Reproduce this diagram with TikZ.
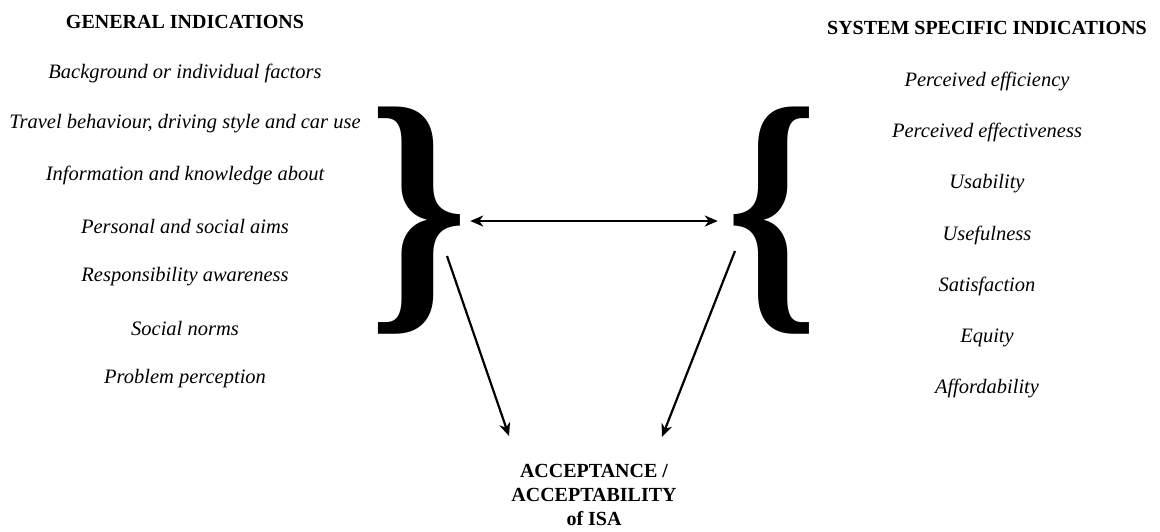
\documentclass[tikz,border=0pt]{standalone}
\usepackage{fontspec}
\usepackage{graphicx}
\usetikzlibrary{arrows.meta}
\setmainfont{Liberation Serif}
\tikzset{>={Stealth[length=13pt,width=11pt,inset=4pt]}}
\tikzset{
  head/.style={font=\fontsize{20}{24}\selectfont\bfseries},
  item/.style={font=\fontsize{20.5}{24}\selectfont\itshape},
  brace/.style={inner sep=0pt, font=\bfseries},
  link/.style={line width=2.2pt}
}

\begin{document}
\begin{tikzpicture}[x=1pt,y=-1pt]
\useasboundingbox (0,0) rectangle (1160,531);

% general indications
\node[head] (gen) at (185,22) {GENERAL INDICATIONS};
\foreach \t [count=\i] in {Background or individual factors,
    {Travel behaviour, driving style and car use},
    Information and knowledge about, Personal and social aims,
    Responsibility awareness, Social norms, Problem perception}
  \node[item] (g\i) at (185,{73+51*(\i-1)}) {\t};

% system specific indications
\node[head] (sys) at (987,28) {SYSTEM SPECIFIC INDICATIONS};
\foreach \t [count=\i] in {Perceived efficiency, Perceived effectiveness,
    Usability, Usefulness, Satisfaction, Equity, Affordability}
  \node[item] (s\i) at (987,{81.5+51.2*(\i-1)}) {\t};

% braces
\node[brace] (lbr) at (419,221) {\resizebox*{100pt}{227pt}{\}}};
\node[brace] (rbr) at (773,221) {\resizebox*{92pt}{227pt}{\{}};

% result
\node[head, align=center] (acc) at (594,495) {ACCEPTANCE /\\ACCEPTABILITY\\of ISA};

\coordinate (la) at (447,256);
\coordinate (lb) at (509,436);
\coordinate (ra) at (735,251);
\coordinate (rb) at (662,437);

\draw[link, <->] ([xshift=1pt]lbr.east) -- ([xshift=-9pt]rbr.west);
\draw[link, ->] (la) -- (lb);
\draw[link, ->] (ra) -- (rb);
\end{tikzpicture}
\end{document}
